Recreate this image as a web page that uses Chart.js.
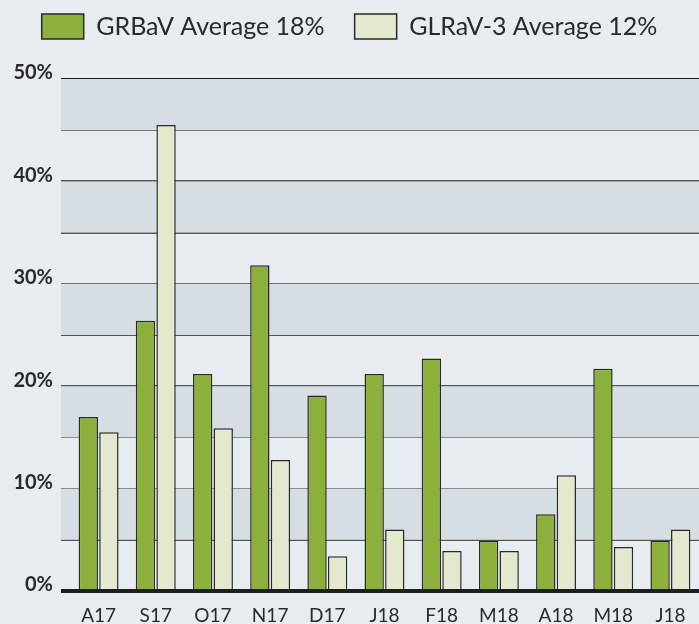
<!DOCTYPE html>
<html>
<head>
<meta charset="utf-8">
<script src="https://cdn.jsdelivr.net/npm/chart.js@4"></script>
<style>
  html, body { margin: 0; padding: 0; background: #e6ecef; }
</style>
</head>
<body>
<canvas id="myBarChart" width="699" height="624"></canvas>
<script>
const months = ["A17", "S17", "O17", "N17", "D17", "J18", "F18", "M18", "A18", "M18", "J18"];
const grbav = [17.0, 26.4, 21.2, 31.8, 19.1, 21.2, 22.7, 4.9, 7.5, 21.7, 4.9];
const glrav = [15.5, 45.5, 15.9, 12.8, 3.4, 6.0, 3.9, 3.9, 11.3, 4.3, 6.0];
const seriesNames = ["GRBaV Average 18%", "GLRaV-3 Average 12%"];
const yLabels = [0, 10, 20, 30, 40, 50];

const GREEN = "#8db03c";
const PALE = "#e3e8ce";
const INK = "#2a2a2a";

// shaded bands + thick zero line
const bandsPlugin = {
  id: "bands",
  beforeDatasetsDraw(chart) {
    const { ctx, chartArea, scales } = chart;
    const y = scales.y;
    const left = chartArea.left - 9;
    ctx.save();
    ctx.fillStyle = "#d6dee4";
    for (let v = 5; v < 50; v += 10) {
      const top = y.getPixelForValue(v + 5);
      const bottom = y.getPixelForValue(v);
      ctx.fillRect(left, top, chartArea.right - left, bottom - top);
    }
    ctx.restore();
  },
  afterDatasetsDraw(chart) {
    const { ctx, chartArea, scales } = chart;
    const y0 = scales.y.getPixelForValue(0);
    ctx.save();
    ctx.strokeStyle = "#1e1e1e";
    ctx.lineWidth = 4;
    ctx.beginPath();
    ctx.moveTo(chartArea.left - 9, y0);
    ctx.lineTo(chartArea.right, y0);
    ctx.stroke();
    ctx.restore();
  },
};

// legend padding is large to space the two items apart, so pin its height
const legendSpace = {
  id: "legendSpace",
  beforeInit(chart) {
    const fit = chart.legend.fit;
    chart.legend.fit = function () {
      fit.bind(chart.legend)();
      this.height = 95;
    };
  },
};

const config = {
  type: "bar",
  data: {
    labels: months,
    datasets: [
      {
        label: seriesNames[0],
        data: grbav,
        backgroundColor: GREEN,
        borderColor: INK,
        borderWidth: 1.5,
      },
      {
        label: seriesNames[1],
        data: glrav,
        backgroundColor: PALE,
        borderColor: INK,
        borderWidth: 1.5,
      },
    ],
  },
  options: {
    responsive: false,
    animation: false,
    layout: { padding: { top: -16, left: 0, right: 0, bottom: 0 } },
    datasets: {
      bar: { categoryPercentage: 0.72, barPercentage: 0.94 },
    },
    plugins: {
      legend: {
        labels: {
          boxWidth: 42,
          boxHeight: 25,
          padding: 30,
          color: INK,
          font: { family: "Lato", size: 25 },
        },
      },
      tooltip: { enabled: false },
    },
    scales: {
      x: {
        grid: { display: false, drawTicks: false },
        border: { display: false },
        ticks: {
          color: INK,
          padding: 13,
          font: { family: "Lato", size: 19 },
        },
        afterFit(scale) {
          scale.height = 33;
        },
      },
      y: {
        min: 0,
        max: 50,
        border: { display: false },
        grid: {
          tickLength: 9,
          color: (c) => (c.tick.value === 50 ? "#1e1e1e" : c.tick.value === 0 ? "rgba(0,0,0,0)" : "#555"),
          lineWidth: (c) => (c.tick.value === 50 ? 2.5 : 2),
        },
        ticks: {
          stepSize: 5,
          padding: 8,
          labelOffset: -6,
          color: INK,
          font: { family: "Lato", size: 20, weight: "bold" },
          callback: (v) => (yLabels.includes(v) ? v + "%" : ""),
        },
        afterFit(scale) {
          scale.width = 70;
        },
      },
    },
  },
  plugins: [bandsPlugin, legendSpace],
};

new Chart(document.querySelector("#myBarChart"), config);
</script>
</body>
</html>
